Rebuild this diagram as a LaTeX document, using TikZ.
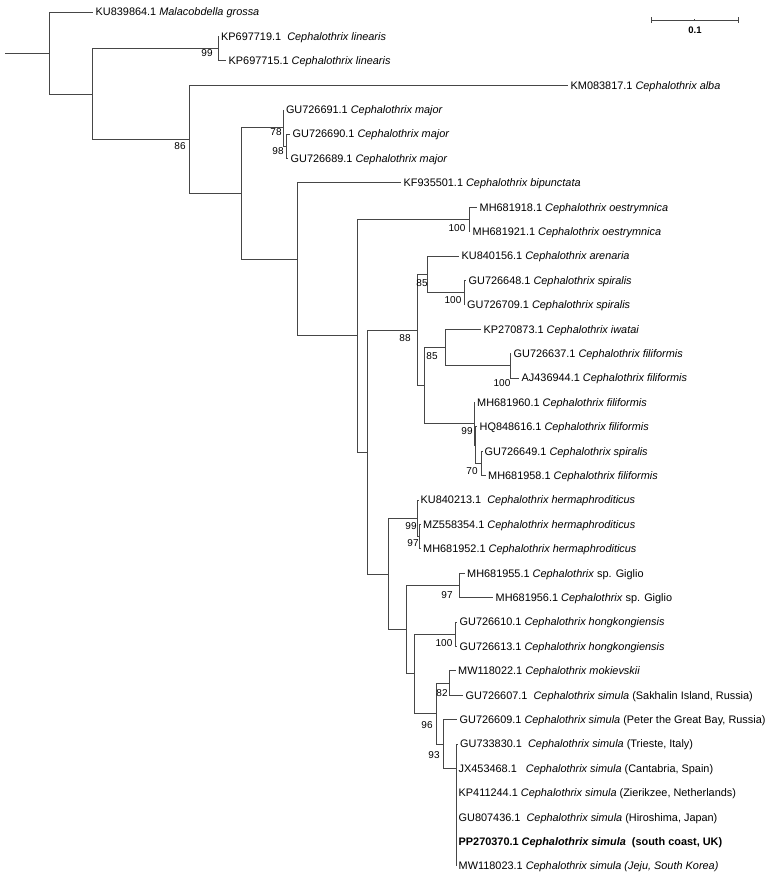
\documentclass[tikz,border=0pt]{standalone}
\usepackage{fontspec}
\setmainfont{Liberation Sans}
\definecolor{brc}{RGB}{70,70,70}
\begin{document}
\begin{tikzpicture}[x=1pt,y=-1pt,
  br/.style={draw=brc,line width=0.9pt},
  tiplabel/.style={anchor=west,inner xsep=2.5pt,inner ysep=0pt,text height=7.8pt,text depth=0pt,font=\fontsize{10.9}{12}\selectfont},
  boot/.style={anchor=center,inner sep=0pt,text height=7.2pt,text depth=0pt,font=\fontsize{10}{12}\selectfont}]
\useasboundingbox (0,0) rectangle (770,880);
% internal nodes
\coordinate (root) at (5,53);
\coordinate (R) at (49,53);
\coordinate (A1) at (92,94);
\coordinate (L1) at (218,48.6);
\coordinate (A2) at (189,139.4);
\coordinate (A3) at (241,193.6);
\coordinate (MJ1) at (283.3,127.9);
\coordinate (MJ2) at (286.7,146.2);
\coordinate (A4) at (297,259.25);
\coordinate (A5) at (357,335.7);
\coordinate (OE) at (469.3,219.4);
\coordinate (B) at (367,451.95);
\coordinate (C) at (417,329.95);
\coordinate (E) at (427.3,274.3);
\coordinate (SP) at (464,292.6);
\coordinate (D) at (424.3,385.6);
\coordinate (IF) at (445,347.5);
\coordinate (FI) at (510,365.8);
\coordinate (F) at (474,423.75);
\coordinate (G) at (475.7,445.1);
\coordinate (H) at (481.7,463.4);
\coordinate (I) at (388,573.95);
\coordinate (J) at (417.7,518.3);
\coordinate (K) at (419.3,536.6);
\coordinate (M) at (406,629.6);
\coordinate (GI) at (459.3,585.4);
\coordinate (N) at (414,673.85);
\coordinate (HK) at (455,634.2);
\coordinate (O) at (436,713.5);
\coordinate (P) at (449,683);
\coordinate (Q) at (443,744);
\coordinate (S) at (456,768.4);
% tips
\coordinate (t1) at (93,12);
\coordinate (t2) at (218.5,36.4);
\coordinate (t3) at (226,60.8);
\coordinate (t4) at (568,85.2);
\coordinate (t5) at (283.3,109.6);
\coordinate (t6) at (290,134);
\coordinate (t7) at (288,158.4);
\coordinate (t8) at (401,182.8);
\coordinate (t9) at (477,207.2);
\coordinate (t10) at (470,231.6);
\coordinate (t11) at (459,256);
\coordinate (t12) at (466,280.4);
\coordinate (t13) at (464.5,304.8);
\coordinate (t14) at (481,329.2);
\coordinate (t15) at (511,353.6);
\coordinate (t16) at (519,378);
\coordinate (t17) at (474.5,402.4);
\coordinate (t18) at (477,426.8);
\coordinate (t19) at (482,451.2);
\coordinate (t20) at (485.5,475.6);
\coordinate (t21) at (418,500);
\coordinate (t22) at (420.5,524.4);
\coordinate (t23) at (420.5,548.8);
\coordinate (t24) at (464.5,573.2);
\coordinate (t25) at (493,597.6);
\coordinate (t26) at (457,622);
\coordinate (t27) at (457,646.4);
\coordinate (t28) at (455.5,670.8);
\coordinate (t29) at (463,695.2);
\coordinate (t30) at (457,719.6);
\coordinate (t31) at (457.5,744);
\coordinate (t32) at (456,768.4);
\coordinate (t33) at (456,792.8);
\coordinate (t34) at (456,817.2);
\coordinate (t35) at (456,841.6);
\coordinate (t36) at (456,866);
% branches
\draw[br] (root) -- (R);
\draw[br] (R) |- (t1);
\draw[br] (R) |- (A1);
\draw[br] (A1) |- (L1);
\draw[br] (A1) |- (A2);
\draw[br] (L1) |- (t2);
\draw[br] (L1) |- (t3);
\draw[br] (A2) |- (t4);
\draw[br] (A2) |- (A3);
\draw[br] (A3) |- (MJ1);
\draw[br] (A3) |- (A4);
\draw[br] (MJ1) |- (t5);
\draw[br] (MJ1) |- (MJ2);
\draw[br] (MJ2) |- (t6);
\draw[br] (MJ2) |- (t7);
\draw[br] (A4) |- (t8);
\draw[br] (A4) |- (A5);
\draw[br] (A5) |- (OE);
\draw[br] (A5) |- (B);
\draw[br] (OE) |- (t9);
\draw[br] (OE) |- (t10);
\draw[br] (B) |- (C);
\draw[br] (B) |- (I);
\draw[br] (C) |- (E);
\draw[br] (C) |- (D);
\draw[br] (E) |- (t11);
\draw[br] (E) |- (SP);
\draw[br] (SP) |- (t12);
\draw[br] (SP) |- (t13);
\draw[br] (D) |- (IF);
\draw[br] (D) |- (F);
\draw[br] (IF) |- (t14);
\draw[br] (IF) |- (FI);
\draw[br] (FI) |- (t15);
\draw[br] (FI) |- (t16);
\draw[br] (F) |- (t17);
\draw[br] (F) |- (G);
\draw[br] (G) |- (t18);
\draw[br] (G) |- (H);
\draw[br] (H) |- (t19);
\draw[br] (H) |- (t20);
\draw[br] (I) |- (J);
\draw[br] (I) |- (M);
\draw[br] (J) |- (t21);
\draw[br] (J) |- (K);
\draw[br] (K) |- (t22);
\draw[br] (K) |- (t23);
\draw[br] (M) |- (GI);
\draw[br] (M) |- (N);
\draw[br] (GI) |- (t24);
\draw[br] (GI) |- (t25);
\draw[br] (N) |- (HK);
\draw[br] (N) |- (O);
\draw[br] (HK) |- (t26);
\draw[br] (HK) |- (t27);
\draw[br] (O) |- (P);
\draw[br] (O) |- (Q);
\draw[br] (P) |- (t28);
\draw[br] (P) |- (t29);
\draw[br] (Q) |- (t30);
\draw[br] (Q) |- (S);
\draw[br] (S) |- (t31);
\draw[br] (S) |- (t32);
\draw[br] (S) |- (t33);
\draw[br] (S) |- (t34);
\draw[br] (S) |- (t35);
\draw[br] (S) |- (t36);
% tip labels
\node[tiplabel] (l1) at (t1) {KU839864.1 \textit{Malacobdella grossa}};
\node[tiplabel] (l2) at (t2) {KP697719.1\ \ \textit{Cephalothrix linearis}};
\node[tiplabel] (l3) at (t3) {KP697715.1 \textit{Cephalothrix linearis}};
\node[tiplabel] (l4) at (t4) {KM083817.1 \textit{Cephalothrix alba}};
\node[tiplabel] (l5) at (t5) {GU726691.1 \textit{Cephalothrix major}};
\node[tiplabel] (l6) at (t6) {GU726690.1 \textit{Cephalothrix major}};
\node[tiplabel] (l7) at (t7) {GU726689.1 \textit{Cephalothrix major}};
\node[tiplabel] (l8) at (t8) {KF935501.1 \textit{Cephalothrix bipunctata}};
\node[tiplabel] (l9) at (t9) {MH681918.1 \textit{Cephalothrix oestrymnica}};
\node[tiplabel] (l10) at (t10) {MH681921.1 \textit{Cephalothrix oestrymnica}};
\node[tiplabel] (l11) at (t11) {KU840156.1 \textit{Cephalothrix arenaria}};
\node[tiplabel] (l12) at (t12) {GU726648.1 \textit{Cephalothrix spiralis}};
\node[tiplabel] (l13) at (t13) {GU726709.1 \textit{Cephalothrix spiralis}};
\node[tiplabel] (l14) at (t14) {KP270873.1 \textit{Cephalothrix iwatai}};
\node[tiplabel] (l15) at (t15) {GU726637.1 \textit{Cephalothrix filiformis}};
\node[tiplabel] (l16) at (t16) {AJ436944.1 \textit{Cephalothrix filiformis}};
\node[tiplabel] (l17) at (t17) {MH681960.1 \textit{Cephalothrix filiformis}};
\node[tiplabel] (l18) at (t18) {HQ848616.1 \textit{Cephalothrix filiformis}};
\node[tiplabel] (l19) at (t19) {GU726649.1 \textit{Cephalothrix spiralis}};
\node[tiplabel] (l20) at (t20) {MH681958.1 \textit{Cephalothrix filiformis}};
\node[tiplabel] (l21) at (t21) {KU840213.1\ \ \textit{Cephalothrix hermaphroditicus}};
\node[tiplabel] (l22) at (t22) {MZ558354.1 \textit{Cephalothrix hermaphroditicus}};
\node[tiplabel] (l23) at (t23) {MH681952.1 \textit{Cephalothrix hermaphroditicus}};
\node[tiplabel] (l24) at (t24) {MH681955.1 \textit{Cephalothrix} sp. Giglio};
\node[tiplabel] (l25) at (t25) {MH681956.1 \textit{Cephalothrix} sp. Giglio};
\node[tiplabel] (l26) at (t26) {GU726610.1 \textit{Cephalothrix hongkongiensis}};
\node[tiplabel] (l27) at (t27) {GU726613.1 \textit{Cephalothrix hongkongiensis}};
\node[tiplabel] (l28) at (t28) {MW118022.1 \textit{Cephalothrix mokievskii}};
\node[tiplabel] (l29) at (t29) {GU726607.1\ \ \textit{Cephalothrix simula} (Sakhalin Island, Russia)};
\node[tiplabel] (l30) at (t30) {GU726609.1 \textit{Cephalothrix simula} (Peter the Great Bay, Russia)};
\node[tiplabel] (l31) at (t31) {GU733830.1\ \ \textit{Cephalothrix simula} (Trieste, Italy)};
\node[tiplabel] (l32) at (t32) {JX453468.1\ \ \ \textit{Cephalothrix simula} (Cantabria, Spain)};
\node[tiplabel] (l33) at (t33) {KP411244.1 \textit{Cephalothrix simula} (Zierikzee, Netherlands)};
\node[tiplabel] (l34) at (t34) {GU807436.1\ \ \textit{Cephalothrix simula} (Hiroshima, Japan)};
\node[tiplabel] (l35) at (t35) {\textbf{PP270370.1 \textit{Cephalothrix simula}\ \ (south coast, UK)}};
\node[tiplabel] (l36) at (t36) {MW118023.1 \textit{Cephalothrix simula (Jeju, South Korea)}};
% bootstrap values
\node[boot] (b1) at (207,53) {99};
\node[boot] (b2) at (180,146) {86};
\node[boot] (b3) at (276,132) {78};
\node[boot] (b4) at (278,151) {98};
\node[boot] (b5) at (457,228) {100};
\node[boot] (b6) at (422,283) {85};
\node[boot] (b7) at (453,300) {100};
\node[boot] (b8) at (405,338) {88};
\node[boot] (b9) at (432,356) {85};
\node[boot] (b10) at (502,383) {100};
\node[boot] (b11) at (467,431) {99};
\node[boot] (b12) at (472,471) {70};
\node[boot] (b13) at (411,526) {99};
\node[boot] (b14) at (413,543) {97};
\node[boot] (b15) at (447,595) {97};
\node[boot] (b16) at (444,643) {100};
\node[boot] (b17) at (442,693) {82};
\node[boot] (b18) at (427,725) {96};
\node[boot] (b19) at (434,755) {93};
% scale bar
\coordinate (sb1) at (651,20);
\coordinate (sb2) at (738,20);
\coordinate (sbm) at (694.5,20);
\draw[br] (sb1) -- (sb2);
\draw[br] ([yshift=-3pt]sb1) -- ([yshift=3pt]sb1);
\draw[br] ([yshift=-3pt]sb2) -- ([yshift=3pt]sb2);
\draw[br] ([yshift=-1.2pt]sbm) -- ([yshift=1.2pt]sbm);
\node[boot,font=\bfseries\fontsize{9.5}{11}\selectfont] (sbl) at (695,30) {0.1};
\end{tikzpicture}
\end{document}
